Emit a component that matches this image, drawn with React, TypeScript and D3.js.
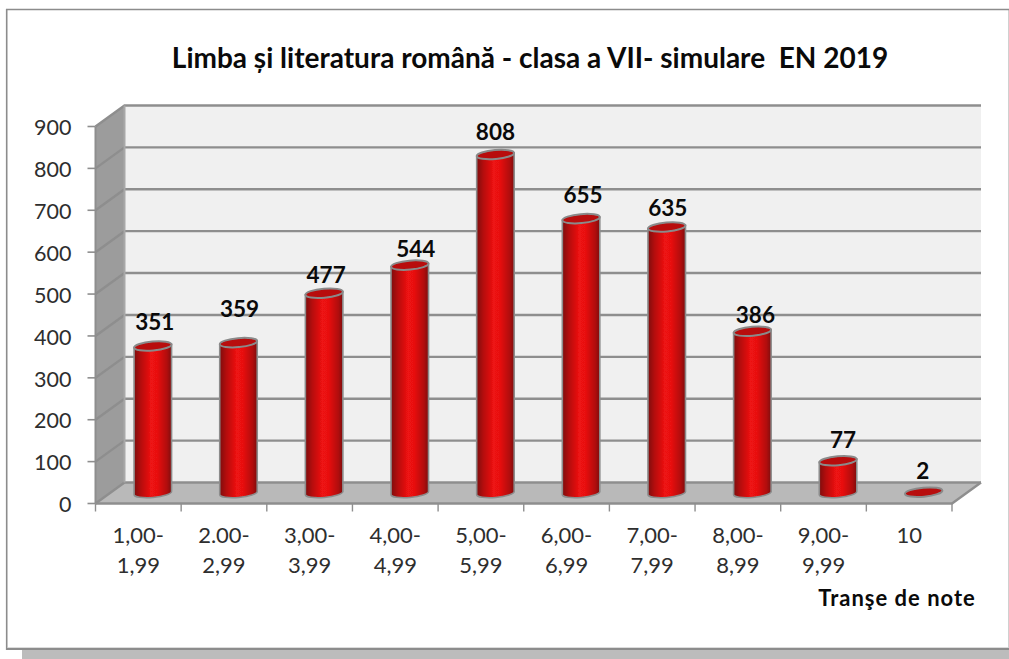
import React from "react";
import * as d3 from "d3";

const categories = [["1,00-","1,99"],["2.00-","2,99"],["3,00-","3,99"],["4,00-","4,99"],["5,00-","5,99"],["6,00-","6,99"],["7,00-","7,99"],["8,00-","8,99"],["9,00-","9,99"],["10"]];
const values = [351,359,477,544,808,655,635,386,77,2];
const yTicks = [0,100,200,300,400,500,600,700,800,900];
const titleText = "Limba și literatura română - clasa a VII- simulare  EN 2019";
const axisTitle = "Tranşe de note";
const labelShiftY = [0,-10,6,8,1,0,5,8,3,3];
const labelShiftX = [0,-1,0,4,-2,0,-1,1,3,-3];

const W = 1009, H = 659;
const FONT = "Lato, Carlito, 'Open Sans', sans-serif";
const dx = 29, dy = -21;
const x = d3.scaleBand<number>().domain(d3.range(categories.length)).range([95.5, 952]).paddingInner(0);
const yFront = d3.scaleLinear().domain([0, 900]).range([503.5, 126.5]);
const yBack = (v: number) => yFront(v) + dy;
const yMid = (v: number) => yFront(v) + dy / 2;
const barW = 37.5;
const ry = 4.5;

export default function App() {
  const x0 = x.range()[0], x1 = x.range()[1];
  const line = d3.line();
  return (
    <svg width={W} height={H} style={{ position: "absolute", left: 0, top: 0, background: "#fff" }}>
      <defs>
        <linearGradient id="cyl" x1="0" x2="1" y1="0" y2="0">
          <stop offset="0" stopColor="#7e0a0a" />
          <stop offset="0.18" stopColor="#b50d0d" />
          <stop offset="0.45" stopColor="#ee1212" />
          <stop offset="0.62" stopColor="#e81111" />
          <stop offset="0.88" stopColor="#b00c0c" />
          <stop offset="1" stopColor="#7e0a0a" />
        </linearGradient>
        <filter id="soft" x="-5%" y="-5%" width="110%" height="110%"><feGaussianBlur stdDeviation="0.45" /></filter>
      </defs>
      <rect x={22} y={640} width={987} height={19} fill="#bcbcbc" />
      <rect x={7} y={10} width={1001} height={639} fill="#fff" />
      <line x1={1008.5} x2={1008.5} y1={9} y2={649} stroke="#d0d0d0" />
      <line x1={8} x2={1008} y1={647.5} y2={647.5} stroke="#dcdcdc" />
      <line x1={6} x2={1009} y1={649} y2={649} stroke="#8c8c8c" strokeWidth={2} />
      <line x1={6} x2={1009} y1={9.5} y2={9.5} stroke="#8c8c8c" strokeWidth={1.6} />
      <line x1={6.7} x2={6.7} y1={9} y2={650} stroke="#8c8c8c" strokeWidth={1.6} />
      <text x={530} y={68} textAnchor="middle" fontFamily={FONT} fontWeight={700} fontSize={28} fill="#0a0a0a" xmlSpace="preserve">{titleText}</text>

      <g filter="url(#soft)">
        {/* back wall */}
        <rect x={x0 + dx} y={yBack(900)} width={x1 - x0} height={yBack(0) - yBack(900)} fill="#f0f0f0" />
        {/* side wall */}
        <path d={line([[x0, yFront(900)],[x0 + dx, yBack(900)],[x0 + dx, yBack(0)],[x0, yFront(0)]])! + "Z"} fill="#9c9c9c" />
        {/* floor */}
        <path d={line([[x0, yFront(0)],[x0 + dx, yBack(0)],[x1 + dx, yBack(0)],[x1, yFront(0)]])! + "Z"} fill="#b9b9b9" />
        {/* grid */}
        {yTicks.map((t) => (
          <path key={t} d={line([[x0, yFront(t)],[x0 + dx, yBack(t)],[x1 + dx, yBack(t)]])!} fill="none" stroke="#8e8e8e" strokeWidth={2.4} />
        ))}
        <path d={line([[x0 + dx, yBack(900)],[x0 + dx, yBack(0)]])!} stroke="#a8a8a8" strokeWidth={2} fill="none" />
        <path d={line([[x0, yFront(900)],[x0, yFront(0)]])!} stroke="#8e8e8e" strokeWidth={2} fill="none" />
        <path d={line([[x0, yFront(0)],[x1, yFront(0)],[x1 + dx, yBack(0)]])!} stroke="#8e8e8e" strokeWidth={2.4} fill="none" />
        {/* ticks */}
        {yTicks.map((t) => (
          <line key={t} x1={x0 - 8} x2={x0} y1={yFront(t)} y2={yFront(t)} stroke="#8e8e8e" strokeWidth={1.6} />
        ))}
        {d3.range(categories.length + 1).map((i) => {
          const px = x0 + i * x.step();
          return <line key={i} x1={px} x2={px} y1={yFront(0)} y2={yFront(0) + 8} stroke="#8e8e8e" strokeWidth={1.4} />;
        })}
        {/* cylinders */}
        {values.map((v, i) => {
          const cx = x(i)! + x.bandwidth() / 2 + dx / 2;
          const yb = yMid(0), yt = yMid(v);
          const l = cx - barW / 2, r = cx + barW / 2;
          const tilt = (yy: number) => `rotate(-5 ${cx} ${yy})`;
          return (
            <g key={i}>
              {yb - yt > 2 && (
                <path
                  d={`M${l},${yt + 1.6} L${r},${yt - 1.6} L${r},${yb - 1.6} A${barW / 2},${ry} -5 0 1 ${l},${yb + 1.6} Z`}
                  fill="url(#cyl)" stroke="#8c8c8c" strokeWidth={1.6}
                />
              )}
              <ellipse cx={cx} cy={yt} rx={barW / 2} ry={ry} transform={tilt(yt)} fill="#b80707" stroke="#8a8a8a" strokeWidth={2} />
            </g>
          );
        })}
      </g>

      {/* y labels */}
      {yTicks.map((t) => (
        <text key={t} x={71.5} y={yFront(t) + 1} dy="0.36em" textAnchor="end" fontFamily={FONT} fontSize={21.5} fill="#2e2e2e">{t}</text>
      ))}
      {/* x labels */}
      {categories.map((c, i) => (
        <text key={i} x={x(i)! + x.bandwidth() / 2} textAnchor="middle" fontFamily={FONT} fontSize={22} fill="#2e2e2e">
          {c.map((s, k) => <tspan key={k} x={x(i)! + x.bandwidth() / 2} y={543 + k * 30}>{s}</tspan>)}
        </text>
      ))}
      {/* value labels */}
      {values.map((v, i) => (
        <text key={i} x={x(i)! + x.bandwidth() / 2 + dx / 2 + 2 + labelShiftX[i]} y={yMid(v) - 16 + labelShiftY[i]} textAnchor="middle" fontFamily={FONT} fontWeight={700} fontSize={22.5} fill="#0a0a0a">{v}</text>
      ))}
      <text x={897} y={606} textAnchor="middle" fontFamily={FONT} fontWeight={700} fontSize={22} letterSpacing={1} fill="#0a0a0a">{axisTitle}</text>
    </svg>
  );
}
